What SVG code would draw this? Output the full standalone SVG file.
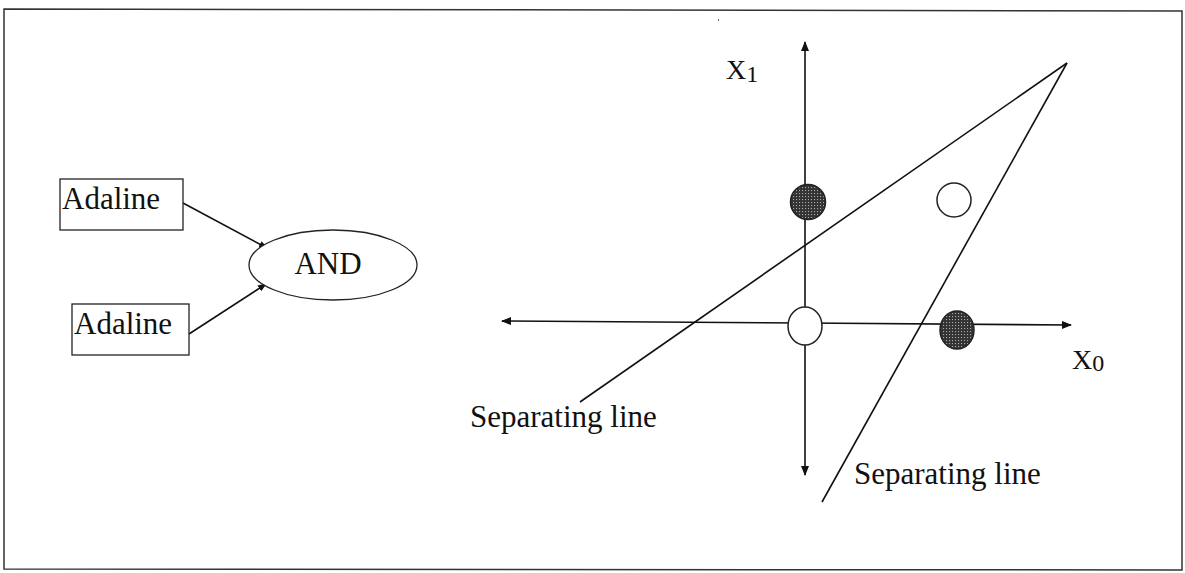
<svg xmlns="http://www.w3.org/2000/svg" width="1185" height="573" viewBox="0 0 1185 573">
<style>
  .t{font-family:"Liberation Serif","Times New Roman",serif;fill:#111}
  .ln{stroke:#111;stroke-width:1.6;fill:none}
  .box{fill:#fff;stroke:#222;stroke-width:1.3}
  .open{fill:#fff;stroke:#222;stroke-width:1.5}
  .filled{fill:url(#hatch);stroke:#222;stroke-width:1.5}
</style>
<defs>
  <marker id="ah" markerWidth="10" markerHeight="8" refX="9" refY="4" orient="auto" markerUnits="userSpaceOnUse">
    <path d="M0,0 L10,4 L0,8 z" fill="#111"/>
  </marker>
  <marker id="ahs" markerWidth="9" markerHeight="7" refX="8" refY="3.5" orient="auto" markerUnits="userSpaceOnUse">
    <path d="M0,0 L9,3.5 L0,7 z" fill="#111"/>
  </marker>
  <pattern id="hatch" width="3" height="3" patternUnits="userSpaceOnUse">
    <rect width="3" height="3" fill="#333"/>
    <rect x="1" y="1" width="1.1" height="1.1" fill="#aaa"/>
  </pattern>
</defs>
<rect width="1185" height="573" fill="#fff"/>
<g id="frame">
  <path d="M4,9 L1182,11 L1182,570 L4,569 Z" fill="none" stroke="#333" stroke-width="1.5"/>
  <rect x="718" y="19" width="1" height="2" fill="#666"/>
</g>
<g id="connectors">
  <line class="ln" x1="183" y1="203" x2="267" y2="248" marker-end="url(#ahs)"/>
  <line class="ln" x1="189" y1="334" x2="266" y2="284" marker-end="url(#ahs)"/>
  <line class="ln" x1="805" y1="322" x2="805" y2="42" marker-end="url(#ah)"/>
  <line class="ln" x1="805" y1="322" x2="805" y2="475" marker-end="url(#ah)"/>
  <line class="ln" x1="805" y1="323" x2="502" y2="321" marker-end="url(#ah)"/>
  <line class="ln" x1="805" y1="323" x2="1071" y2="325" marker-end="url(#ah)"/>
  <line class="ln" x1="1067" y1="63" x2="580" y2="402"/>
  <line class="ln" x1="1067" y1="63" x2="822" y2="502"/>
</g>
<g id="adaline1">
  <rect class="box" x="60" y="179" width="123" height="51"/>
  <text class="t" x="62" y="209" font-size="31">Adaline</text>
</g>
<g id="adaline2">
  <rect class="box" x="72" y="304" width="117" height="51"/>
  <text class="t" x="74" y="334" font-size="31">Adaline</text>
</g>
<g id="and">
  <ellipse class="box" cx="333" cy="265" rx="84" ry="35"/>
  <text class="t" x="328" y="274" font-size="31" text-anchor="middle">AND</text>
</g>
<g id="pt-00">
  <ellipse class="open" cx="805" cy="326" rx="17" ry="19"/>
</g>
<g id="pt-10">
  <ellipse class="filled" cx="957" cy="330" rx="17" ry="19"/>
</g>
<g id="pt-01">
  <circle class="filled" cx="808" cy="202" r="17.5"/>
</g>
<g id="pt-11">
  <circle class="open" cx="954" cy="200" r="17"/>
</g>
<g id="label-x1">
  <text class="t" x="726" y="79" font-size="28">X<tspan font-size="24" dy="3">1</tspan></text>
</g>
<g id="label-x0">
  <text class="t" x="1072" y="369" font-size="28">X<tspan font-size="24" dy="2">0</tspan></text>
</g>
<g id="label-sep1">
  <text class="t" x="470" y="427" font-size="31">Separating line</text>
</g>
<g id="label-sep2">
  <text class="t" x="854" y="484" font-size="31">Separating line</text>
</g>
</svg>
